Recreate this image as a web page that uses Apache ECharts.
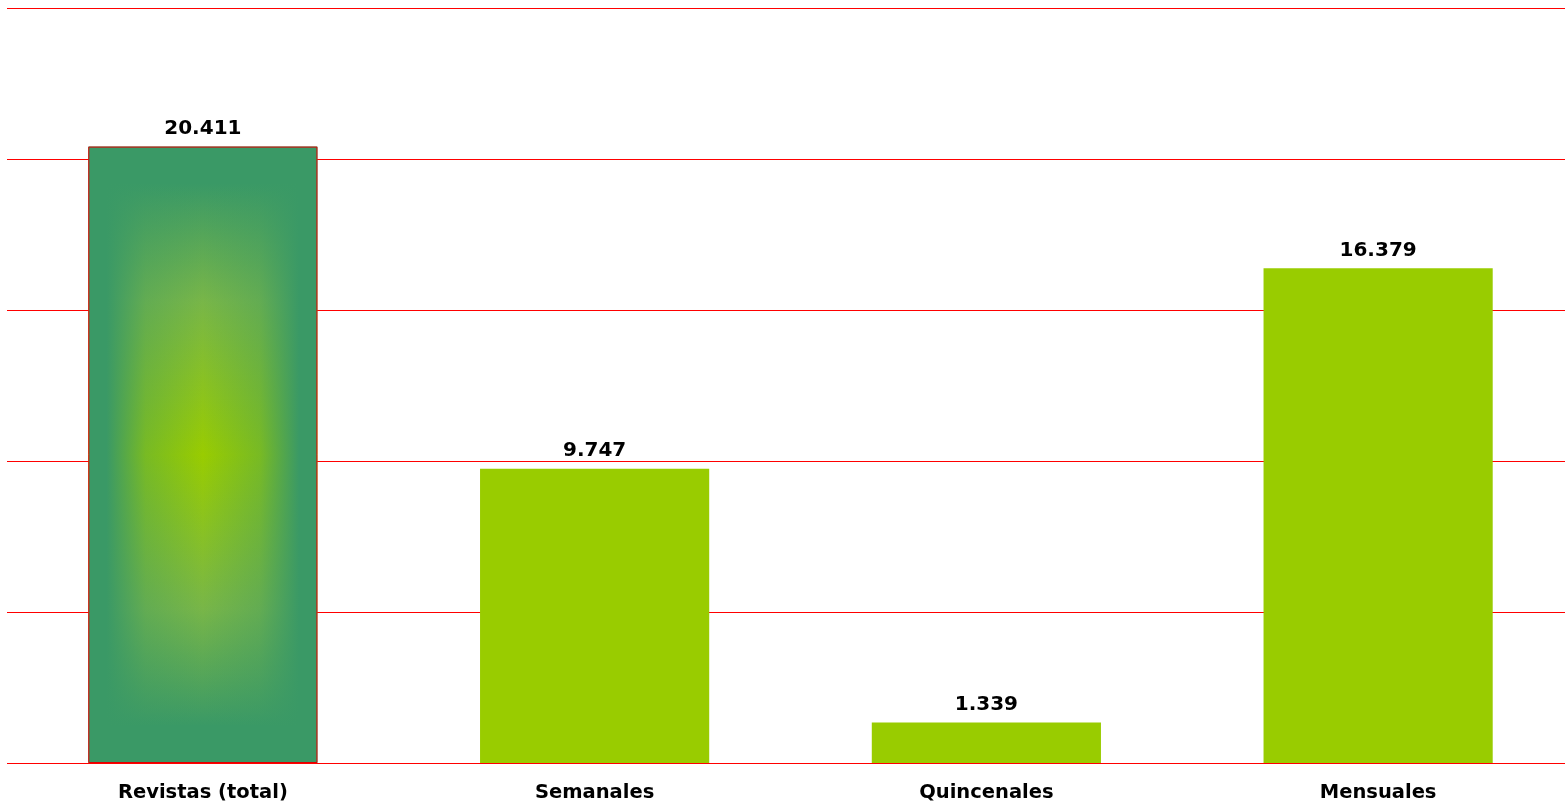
<!DOCTYPE html>
<html>
<head>
<meta charset="utf-8">
<script src="https://cdn.jsdelivr.net/npm/echarts@6/dist/echarts.min.js"></script>
<style>
html,body{margin:0;padding:0;background:#fff;overflow:hidden;}
#chart{width:1575px;height:806px;}
</style>
</head>
<body>
<div id="chart"></div>
<script>
const categories = ['Revistas (total)', 'Semanales', 'Quincenales', 'Mensuales'];
const values = [20411, 9747, 1339, 16379];
const axisMax = 25000;
const axisStep = 5000;

function fmt(v) {
  const s = String(Math.round(v));
  return s.replace(/\B(?=(\d{3})+(?!\d))/g, '.');
}

const dark = '#3a9966';
const mid = '#78b648';
const light = '#99cc00';

const baseData = values.map((v, i) => i === 0 ? {
  value: v,
  itemStyle: {
    color: {
      type: 'linear', x: 0, y: 0, x2: 0, y2: 1,
      colorStops: [
        { offset: 0, color: dark },
        { offset: 0.06, color: dark },
        { offset: 0.25, color: mid },
        { offset: 0.5, color: light },
        { offset: 0.75, color: mid },
        { offset: 0.94, color: dark },
        { offset: 1, color: dark }
      ]
    }
  }
} : v);

const overlayData = values.map((v, i) => i === 0 ? v : '-');

const chart = echarts.init(document.getElementById('chart'), null, { renderer: 'canvas' });
chart.setOption({
  animation: false,
  backgroundColor: '#ffffff',
  grid: { left: 7, right: 1, top: 8, bottom: 43, containLabel: false },
  xAxis: {
    type: 'category',
    data: categories,
    axisLine: { show: false },
    axisTick: { show: false },
    axisLabel: {
      color: '#000',
      fontFamily: 'DejaVu Sans',
      fontWeight: 'bold',
      fontSize: 19.5,
      margin: 20
    }
  },
  yAxis: {
    type: 'value',
    min: 0,
    max: axisMax,
    interval: axisStep,
    axisLine: { show: false },
    axisTick: { show: false },
    axisLabel: { show: false },
    splitLine: { show: true, lineStyle: { color: '#ff0000', width: 1.2 } }
  },
  series: [
    {
      type: 'bar',
      data: baseData,
      barWidth: '58.5%',
      barGap: '-100%',
      itemStyle: { color: light },
      label: {
        show: true,
        position: 'top',
        distance: 8,
        color: '#000',
        fontFamily: 'DejaVu Sans',
        fontWeight: 'bold',
        fontSize: 20,
        formatter: p => fmt(p.value)
      },
      z: 2
    },
    {
      type: 'bar',
      data: overlayData,
      barWidth: '58.5%',
      barGap: '-100%',
      itemStyle: {
        borderColor: '#e00000',
        borderWidth: 1,
        color: {
          type: 'linear', x: 0, y: 0, x2: 1, y2: 0,
          colorStops: [
            { offset: 0, color: 'rgba(58,153,102,1)' },
            { offset: 0.08, color: 'rgba(58,153,102,1)' },
            { offset: 0.25, color: 'rgba(58,153,102,0.35)' },
            { offset: 0.5, color: 'rgba(58,153,102,0)' },
            { offset: 0.75, color: 'rgba(58,153,102,0.35)' },
            { offset: 0.92, color: 'rgba(58,153,102,1)' },
            { offset: 1, color: 'rgba(58,153,102,1)' }
          ]
        }
      },
      label: { show: false },
      z: 3
    }
  ]
});
</script>
</body>
</html>
